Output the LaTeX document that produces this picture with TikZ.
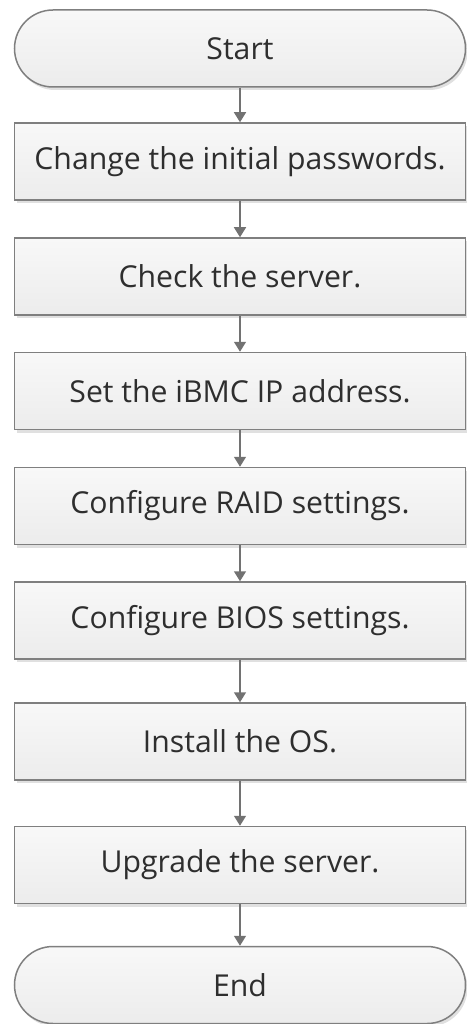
\documentclass[tikz,border=0pt]{standalone}
\usepackage{fontspec}
\setmainfont{Open Sans}
\usetikzlibrary{shapes.misc,shadows,arrows.meta}
\definecolor{edge}{HTML}{7F7F7F}
\definecolor{boxtop}{HTML}{F8F8F8}
\definecolor{boxbot}{HTML}{ECECEC}
\definecolor{txt}{HTML}{2E2E2E}
\tikzset{
  base/.style={draw=edge, line width=1.5pt, top color=boxtop, bottom color=boxbot,
    minimum width=451pt, inner sep=0pt, text=txt, font=\fontsize{30.2}{34}\selectfont,
    drop shadow={shadow xshift=2pt, shadow yshift=-3pt, fill=black, opacity=0.12}},
  stepbox/.style={base, rectangle, minimum height=77pt},
  term/.style={base, rounded rectangle, minimum height=77pt},
  conn/.style={draw=edge!90!black, line width=1.5pt, -{Triangle[length=10pt,width=12pt]}}
}
\begin{document}
\begin{tikzpicture}[x=1pt,y=-1pt]
\useasboundingbox (0,0) rectangle (466,1024);
\node[term]    (s)  at (240,48.5) {Start};
\node[stepbox] (b1) at (240,161.5) {Change the initial passwords.};
\node[stepbox] (b2) at (240,276.5) {Check the server.};
\node[stepbox] (b3) at (240,391) {Set the iBMC IP address.};
\node[stepbox] (b4) at (240,506) {Configure RAID settings.};
\node[stepbox] (b5) at (240,620.5) {Configure BIOS settings.};
\node[stepbox] (b6) at (240,741.5) {Install the OS.};
\node[stepbox] (b7) at (240,865) {Upgrade the server.};
\node[term]    (e)  at (240,985) {End};
\foreach \a/\b in {s/b1,b1/b2,b2/b3,b3/b4,b4/b5,b5/b6,b6/b7,b7/e}
  \draw[conn] (\a.south) -- (\b.north);
\end{tikzpicture}
\end{document}
